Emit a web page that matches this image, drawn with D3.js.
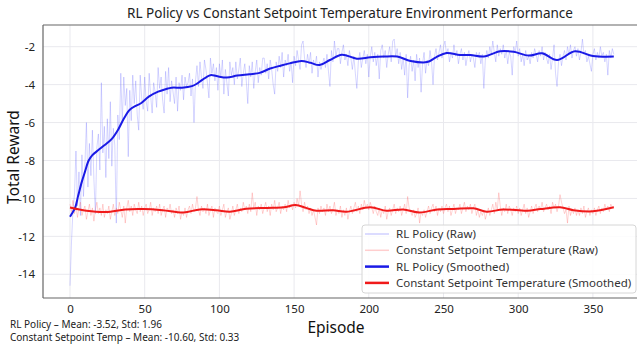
<!DOCTYPE html>
<html>
<head>
<meta charset="utf-8">
<script src="https://cdn.jsdelivr.net/npm/d3@7"></script>
<style>
  html, body { margin: 0; padding: 0; background: #fff; }
  svg { display: block; font-family: "Noto Sans", "Open Sans", sans-serif; }
</style>
</head>
<body>
<svg id="chart" width="637" height="348"></svg>
<script>
// ---------------- DATA ----------------
const rlRaw = [
  -14.6, -12.3, -10.6, -9.8, -7.5, -10.4, -8.6, -10.9, -7.7, -9.9,
  -8.2, -6.0, -9.4, -7.1, -8.8, -6.4, -9.0, -10.8, -7.3, -6.6,
  -8.5, -3.9, -7.6, -6.2, -8.9, -5.8, -7.9, -4.9, -8.3, -6.3,
  -7.2, -11.3, -5.6, -6.9, -3.4, -6.0, -3.6, -5.1, -4.2, -7.8,
  -4.3, -5.9, -3.5, -5.0, -3.8, -5.6, -6.4, -3.5, -4.7, -5.3,
  -3.6, -4.9, -5.4, -3.4, -4.6, -5.5, -3.9, -4.4, -5.2, -3.1,
  -4.2, -3.6, -4.8, -5.5, -3.3, -4.5, -3.1, -4.9, -3.8, -4.4,
  -5.0, -3.6, -5.4, -3.9, -4.3, -3.5, -4.8, -3.6, -4.1, -3.9,
  -3.4, -4.6, -3.7, -6.0, -3.8, -3.0, -4.1, -2.8, -3.6, -4.2,
  -2.7, -3.2, -3.9, -4.7, -2.6, -3.4, -2.9, -3.8, -3.1, -4.3,
  -2.9, -3.6, -2.7, -4.5, -3.2, -3.9, -4.6, -2.8, -3.5, -3.1,
  -4.0, -2.8, -3.7, -3.2, -2.6, -4.1, -3.4, -2.9, -3.8, -5.0,
  -3.0, -3.6, -2.8, -4.2, -3.3, -2.7, -3.9, -3.1, -3.5, -2.6,
  -2.6, -3.4, -2.9, -3.7, -2.7, -3.2, -4.0, -4.5, -2.8, -3.3,
  -2.5, -3.1, -2.3, -3.6, -2.7, -3.0, -2.4, -3.3, -2.8, -3.9,
  -2.5, -3.0, -2.2, -2.7, -3.2, -1.9, -1.7, -2.6, -3.1, -2.4,
  -2.9, -2.3, -3.4, -2.7, -3.0, -2.5, -3.6, -2.8, -3.2, -2.9,
  -2.6, -3.1, -2.4, -3.3, -4.1, -2.2, -2.8, -1.7, -2.5, -2.1,
  -2.1, -2.9, -2.3, -1.9, -2.7, -2.4, -3.0, -2.2, -2.6, -3.2,
  -2.5, -3.4, -4.2, -2.8, -2.3, -3.1, -2.6, -2.2, -2.9, -2.4,
  -3.6, -2.5, -2.0, -2.8, -2.3, -3.0, -2.4, -3.7, -2.2, -1.9,
  -2.6, -2.2, -3.1, -2.4, -2.0, -2.8, -1.7, -1.6, -2.5, -2.1,
  -2.9, -2.3, -3.2, -2.6, -3.5, -2.4, -4.7, -3.0, -2.5, -3.3,
  -2.7, -3.8, -2.4, -3.1, -2.6, -4.4, -2.9, -2.3, -3.4, -2.7,
  -3.0, -2.2, -2.8, -4.0, -2.5, -2.1, -2.7, -2.3, -1.9, -2.6,
  -2.0, -1.7, -2.4, -2.1, -2.8, -2.3, -2.6, -1.9, -2.5, -2.2,
  -2.9, -2.4, -2.1, -2.7, -2.3, -3.0, -2.5, -2.2, -2.8, -2.4,
  -2.6, -3.1, -2.3, -2.5, -2.3, -2.9, -2.4, -4.2, -2.7, -2.2,
  -2.6, -2.0, -2.4, -1.7, -2.3, -2.8, -1.9, -2.5, -2.1, -2.4,
  -1.9, -2.6, -2.2, -2.9, -2.3, -2.5, -3.5, -2.0, -2.3, -1.7,
  -2.5, -2.1, -2.8, -2.4, -3.0, -2.2, -2.7, -2.5, -2.9, -2.3,
  -2.6, -2.1, -2.4, -2.8, -2.2, -2.5, -2.0, -2.7, -2.3, -2.6,
  -2.9, -2.4, -3.2, -2.6, -1.9, -3.4, -4.1, -2.8, -2.4, -3.0,
  -2.5, -2.2, -2.7, -2.0, -2.4, -1.9, -2.6, -2.2, -2.0, -2.5,
  -2.1, -2.7, -2.3, -1.6, -2.4, -2.2, -2.8, -2.5, -2.9, -3.3,
  -2.4, -2.1, -2.7, -2.3, -2.6, -2.0, -2.5, -2.3, -2.8, -2.4,
  -3.5, -2.2, -2.6, -2.1, -2.4
];
const csRaw = [
  -10.3, -10.7, -10.1, -10.8, -10.4, -11.0, -10.5, -10.2, -10.9, -10.6,
  -10.4, -11.1, -10.7, -10.3, -10.9, -10.5, -11.2, -10.6, -10.2, -10.8,
  -10.5, -10.9, -10.3, -11.0, -10.6, -10.8, -10.4, -11.1, -10.7, -10.3,
  -10.9, -10.5, -10.8, -10.2, -10.6, -11.0, -10.4, -11.3, -10.5, -10.1,
  -10.7, -10.4, -10.9, -10.3, -10.6, -10.8, -10.2, -10.7, -10.4, -10.9,
  -10.5, -10.3, -10.8, -10.6, -10.2, -10.9, -10.5, -10.7, -10.4, -10.8,
  -10.3, -10.9, -10.6, -10.4, -11.0, -10.5, -10.7, -10.3, -10.8, -10.6,
  -11.0, -10.5, -10.8, -10.4, -11.1, -10.7, -10.9, -10.5, -11.0, -10.6,
  -10.4, -10.8, -10.3, -10.7, -10.5, -9.9, -10.6, -10.9, -10.4, -10.7,
  -10.5, -10.8, -10.3, -10.9, -10.6, -10.4, -11.0, -10.5, -10.7, -10.8,
  -10.4, -10.9, -10.6, -10.3, -11.0, -10.7, -10.5, -11.1, -10.8, -10.4,
  -10.9, -10.6, -10.3, -10.8, -10.5, -10.7, -10.2, -10.6, -10.4, -10.8,
  -10.3, -10.7, -9.7, -10.5, -10.2, -10.9, -10.4, -10.6, -10.3, -10.8,
  -10.5, -10.2, -10.7, -10.4, -10.9, -10.3, -10.6, -10.1, -10.7, -10.5,
  -10.2, -10.8, -10.4, -10.6, -10.3, -10.7, -10.1, -10.5, -10.3, -10.6,
  -10.2, -10.5, -10.0, -10.4, -9.6, -10.3, -10.7, -10.2, -10.6, -10.4,
  -10.8, -10.5, -10.9, -10.6, -11.0, -11.4, -10.5, -10.8, -10.4, -10.7,
  -10.5, -10.9, -10.3, -10.7, -10.4, -10.8, -10.6, -10.2, -10.9, -10.6,
  -10.8, -10.4, -11.0, -10.6, -10.9, -10.5, -11.1, -10.7, -10.4, -10.8,
  -10.5, -10.2, -10.7, -10.4, -10.8, -10.3, -10.6, -10.1, -10.5, -10.3,
  -10.6, -10.2, -10.5, -10.8, -10.4, -10.7, -10.9, -10.5, -11.0, -10.6,
  -10.8, -10.4, -11.1, -10.7, -10.5, -10.9, -10.6, -10.3, -10.8, -10.5,
  -10.7, -10.4, -10.9, -10.6, -10.3, -10.8, -9.9, -10.5, -10.7, -10.9,
  -10.6, -11.0, -10.8, -10.5, -11.3, -10.7, -10.9, -10.6, -11.0, -10.7,
  -10.4, -10.8, -10.5, -10.3, -10.7, -10.4, -10.9, -10.5, -10.7, -10.4,
  -10.8, -10.5, -10.3, -10.7, -10.4, -10.9, -10.6, -10.3, -10.8, -10.5,
  -10.6, -10.3, -10.8, -10.5, -10.2, -10.7, -10.4, -10.6, -10.3, -10.8,
  -10.5, -10.3, -10.9, -10.6, -11.0, -10.7, -10.9, -10.6, -11.1, -10.8,
  -10.5, -10.9, -10.6, -10.3, -10.8, -10.2, -10.6, -9.7, -10.4, -10.9,
  -10.5, -10.7, -10.3, -10.8, -10.4, -10.6, -10.9, -10.5, -10.7, -10.4,
  -10.8, -10.5, -10.9, -10.6, -10.3, -10.8, -10.5, -11.0, -10.7, -10.4,
  -10.8, -10.5, -10.3, -10.7, -10.4, -10.6, -10.2, -10.7, -10.5, -10.3,
  -10.6, -10.4, -10.8, -10.2, -10.5, -10.3, -10.7, -10.4, -9.8, -10.2,
  -10.5, -10.8, -10.6, -11.3, -10.4, -10.9, -10.6, -10.8, -10.5, -10.9,
  -10.6, -10.9, -10.5, -10.8, -10.4, -11.0, -10.7, -10.5, -10.9, -10.6,
  -10.8, -10.5, -10.9, -10.6, -10.4, -10.8, -10.5, -10.7, -10.3, -10.6,
  -10.4, -10.7, -10.3, -10.5, -10.4
];
// smoothed curves, read at key episodes
const rlSmoothEp  = [0, 1.3, 3.4, 5.5, 8, 10, 12.5, 15, 19, 23, 28, 32.6, 36, 40, 44, 47.5, 53, 59, 64, 68, 75, 81.6, 85, 88, 94, 98, 105, 112, 120, 127, 134, 141, 147, 155, 161, 167, 174, 182, 192, 201, 210, 219, 228, 239, 245, 252, 261, 268, 277, 288, 297, 307, 316, 326, 338, 350, 364];
const rlSmoothVal = [-10.97, -10.8, -10.5, -9.85, -9.1, -8.6, -8.0, -7.72, -7.45, -7.2, -6.86, -6.32, -5.8, -5.32, -5.12, -4.98, -4.62, -4.37, -4.24, -4.16, -4.16, -4.08, -3.95, -3.78, -3.5, -3.55, -3.63, -3.52, -3.45, -3.38, -3.15, -3.0, -2.88, -2.75, -2.85, -2.97, -2.7, -2.42, -2.63, -2.56, -2.52, -2.52, -2.75, -2.81, -2.56, -2.33, -2.44, -2.44, -2.52, -2.24, -2.27, -2.47, -2.35, -2.7, -2.24, -2.49, -2.52];
const csSmoothEp  = [0, 11, 24, 37, 49, 62, 76, 87, 98, 107, 118, 132, 143, 151, 158, 165, 176, 185, 201, 212, 223, 234, 246, 257, 270, 279, 290, 306, 315, 328, 337, 350, 364];
const csSmoothVal = [-10.48, -10.65, -10.72, -10.58, -10.56, -10.62, -10.74, -10.58, -10.62, -10.70, -10.54, -10.50, -10.47, -10.35, -10.5, -10.65, -10.62, -10.70, -10.47, -10.65, -10.58, -10.74, -10.58, -10.56, -10.52, -10.70, -10.58, -10.65, -10.56, -10.47, -10.62, -10.68, -10.47];

const xTicks = [0, 50, 100, 150, 200, 250, 300, 350];
const yTicks = [-14, -12, -10, -8, -6, -4, -2];
const legendLabels = ["RL Policy (Raw)", "Constant Setpoint Temperature (Raw)", "RL Policy (Smoothed)", "Constant Setpoint Temperature (Smoothed)"];
const titleText = "RL Policy vs Constant Setpoint Temperature Environment Performance";
const statsLines = ["RL Policy \u2013 Mean: -3.52, Std: 1.96", "Constant Setpoint Temp \u2013 Mean: -10.60, Std: 0.33"];

// ---------------- LAYOUT ----------------
const svg = d3.select("#chart");
const L = 43, T = 25, B = 298;
const x = d3.scaleLinear().domain([-18.2, 382.2]).range([42.8, 641]);
const y = d3.scaleLinear().domain([-15.25, -0.856]).range([B, T]);
const R = 641;

const textColor = "#222";

// grid
const grid = svg.append("g");
grid.selectAll(".gx").data(xTicks).enter().append("line")
  .attr("x1", d => x(d)).attr("x2", d => x(d)).attr("y1", T).attr("y2", B)
  .attr("stroke", "#e9e9ee").attr("stroke-width", 1);
grid.selectAll(".gy").data(yTicks).enter().append("line")
  .attr("x1", L).attr("x2", R).attr("y1", d => y(d)).attr("y2", d => y(d))
  .attr("stroke", "#e9e9ee").attr("stroke-width", 1);

// clip
svg.append("clipPath").attr("id", "clip").append("rect")
  .attr("x", L).attr("y", T).attr("width", R - L).attr("height", B - T);
const plot = svg.append("g").attr("clip-path", "url(#clip)");

const rawLine = d3.line().x((d, i) => x(i)).y(d => y(d));
const smLine = d3.line().x(d => x(d[0])).y(d => y(d[1])).curve(d3.curveCatmullRom.alpha(0.5));

plot.append("path").datum(rlRaw).attr("d", rawLine)
  .attr("fill", "none").attr("stroke", "rgba(90,90,255,0.25)").attr("stroke-width", 1);
plot.append("path").datum(csRaw).attr("d", rawLine)
  .attr("fill", "none").attr("stroke", "rgba(255,80,80,0.25)").attr("stroke-width", 1);
plot.append("path").datum(rlSmoothEp.map((e, i) => [e, rlSmoothVal[i]])).attr("d", smLine)
  .attr("fill", "none").attr("stroke", "#1a1ae6").attr("stroke-width", 2);
plot.append("path").datum(csSmoothEp.map((e, i) => [e, csSmoothVal[i]])).attr("d", smLine)
  .attr("fill", "none").attr("stroke", "#f01a1a").attr("stroke-width", 2);

// spines
const spineC = "#666";
svg.append("line").attr("x1", L).attr("x2", L).attr("y1", T).attr("y2", B).attr("stroke", spineC).attr("stroke-width", 1.2);
svg.append("line").attr("x1", L).attr("x2", R).attr("y1", B).attr("y2", B).attr("stroke", spineC).attr("stroke-width", 1.2);
svg.append("line").attr("x1", L).attr("x2", R).attr("y1", T).attr("y2", T).attr("stroke", spineC).attr("stroke-width", 1.2);

// axes (labels only, no tick marks)
const xAxis = svg.append("g").attr("transform", `translate(0,${B})`)
  .call(d3.axisBottom(x).tickValues(xTicks).tickSize(0).tickPadding(7).tickFormat(d3.format("d")));
xAxis.select(".domain").remove();
xAxis.selectAll("text").attr("font-size", 11.5).attr("fill", textColor).attr("font-family", "'Noto Sans', sans-serif");

const yAxis = svg.append("g").attr("transform", `translate(${L},0)`)
  .call(d3.axisLeft(y).tickValues(yTicks).tickSize(0).tickPadding(8).tickFormat(d => String(d)));
yAxis.select(".domain").remove();
yAxis.selectAll("text").attr("font-size", 11.5).attr("fill", textColor).attr("font-family", "'Noto Sans', sans-serif");

// title
svg.append("text").attr("x", 350).attr("y", 18).attr("text-anchor", "middle")
  .attr("font-size", 13.5).attr("fill", textColor).text(titleText);

// axis titles
svg.append("text").attr("x", 336).attr("y", 333).attr("text-anchor", "middle")
  .attr("font-size", 15.5).attr("fill", "#111").text("Episode");
svg.append("text").attr("transform", "translate(19,157) rotate(-90)").attr("text-anchor", "middle")
  .attr("font-size", 15.5).attr("fill", "#111").text("Total Reward");

// stats
svg.selectAll(".stat").data(statsLines).enter().append("text")
  .attr("x", 10).attr("y", (d, i) => 328 + i * 13)
  .attr("font-size", 10).attr("fill", textColor).text(d => d);

// legend
const lg = svg.append("g");
lg.append("rect").attr("x", 362).attr("y", 225).attr("width", 274).attr("height", 68)
  .attr("rx", 3).attr("fill", "rgba(255,255,255,0.85)").attr("stroke", "#d6d6d6");
const legendStyles = [
  {c: "rgba(90,90,255,0.28)", w: 1.5},
  {c: "rgba(255,80,80,0.28)", w: 1.5},
  {c: "#1a1ae6", w: 2.5},
  {c: "#f01a1a", w: 2.5}
];
legendLabels.forEach((lab, i) => {
  const yy = 234 + i * 16.3;
  lg.append("line").attr("x1", 365).attr("x2", 389).attr("y1", yy).attr("y2", yy)
    .attr("stroke", legendStyles[i].c).attr("stroke-width", legendStyles[i].w);
  lg.append("text").attr("x", 396).attr("y", yy + 4).attr("font-size", 11.5)
    .attr("fill", "#333").text(lab);
});
</script>
</body>
</html>
